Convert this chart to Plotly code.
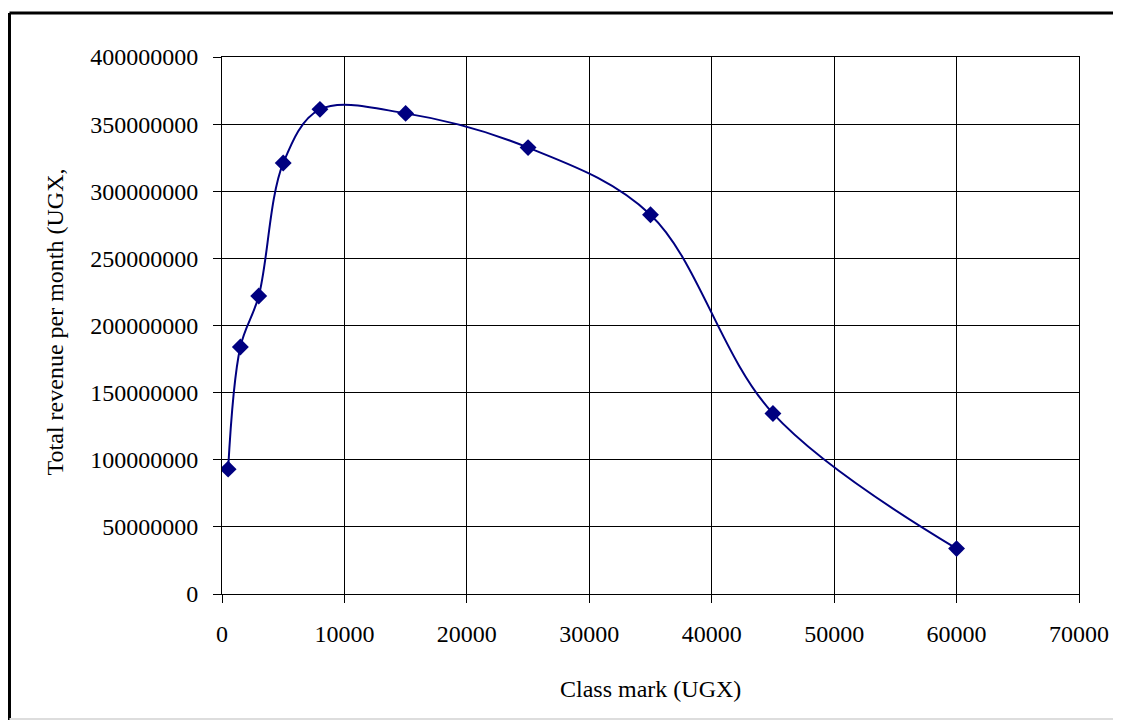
import plotly.graph_objects as go

class_mark = [500, 1500, 3000, 5000, 8000, 15000, 25000, 35000, 45000, 60000]
total_revenue = [93000000, 184000000, 222000000, 321000000, 361000000, 358000000,
                 332500000, 282500000, 134500000, 33800000]
x_ticks = [0, 10000, 20000, 30000, 40000, 50000, 60000, 70000]
y_ticks = [0, 50000000, 100000000, 150000000, 200000000, 250000000,
           300000000, 350000000, 400000000]

# page body has an 8px margin; work in reference pixel coords and shift
OFF = 8
W, H = 1121 - OFF, 722 - OFF
L, R, T, B = 222 - OFF, 1081 - OFF, 57 - OFF, 594 - OFF
pw, ph = R - L, B - T

def px(xp):
    return (xp - OFF - L) / pw

def py(yp):
    return (B - (yp - OFF)) / ph

FONT = "Liberation Serif, Times New Roman, serif"
NAVY = "#000080"

fig = go.Figure()
fig.add_trace(go.Scatter(
    x=class_mark, y=total_revenue, mode="lines+markers",
    line=dict(color=NAVY, width=2, shape="spline", smoothing=1.0),
    marker=dict(symbol="diamond", size=13, color=NAVY),
    showlegend=False, hoverinfo="x+y",
))

fig.update_layout(
    width=W, height=H,
    margin=dict(l=L, r=W - R, t=T, b=H - B, pad=0),
    paper_bgcolor="white", plot_bgcolor="white",
    font=dict(family=FONT, size=24, color="black"),
    xaxis=dict(
        range=[0, 70000], tickvals=x_ticks, ticktext=[str(v) for v in x_ticks],
        showgrid=True, gridcolor="black", gridwidth=1,
        showline=True, linecolor="black", linewidth=1, mirror=True,
        ticks="outside", ticklen=8, tickcolor="black", tickwidth=1,
        zeroline=False, ticklabelstandoff=10,
    ),
    yaxis=dict(
        range=[0, 400000000], tickvals=y_ticks, ticktext=[str(v) for v in y_ticks],
        showgrid=True, gridcolor="black", gridwidth=1,
        showline=True, linecolor="black", linewidth=1, mirror=True,
        ticks="outside", ticklen=8, tickcolor="black", tickwidth=1,
        zeroline=False, ticklabelstandoff=10,
    ),
    shapes=[
        dict(type="line", xref="paper", yref="paper",
             x0=px(9), x1=px(1130), y0=py(13), y1=py(13),
             line=dict(color="black", width=3)),
        dict(type="line", xref="paper", yref="paper",
             x0=px(9), x1=px(9), y0=py(13), y1=py(720),
             line=dict(color="black", width=3)),
        dict(type="line", xref="paper", yref="paper",
             x0=px(9), x1=px(1130), y0=py(719), y1=py(719),
             line=dict(color="#dddddd", width=2)),
    ],
    annotations=[
        dict(text="Class mark (UGX)", xref="paper", yref="paper",
             x=px(651), y=py(689), showarrow=False,
             font=dict(family=FONT, size=24, color="black"),
             xanchor="center", yanchor="middle"),
        dict(text="Total revenue per month (UGX,", xref="paper", yref="paper",
             x=px(55), y=py(322), showarrow=False, textangle=-90,
             font=dict(family=FONT, size=24, color="black"),
             xanchor="center", yanchor="middle"),
    ],
)

fig.write_html("out.html")
